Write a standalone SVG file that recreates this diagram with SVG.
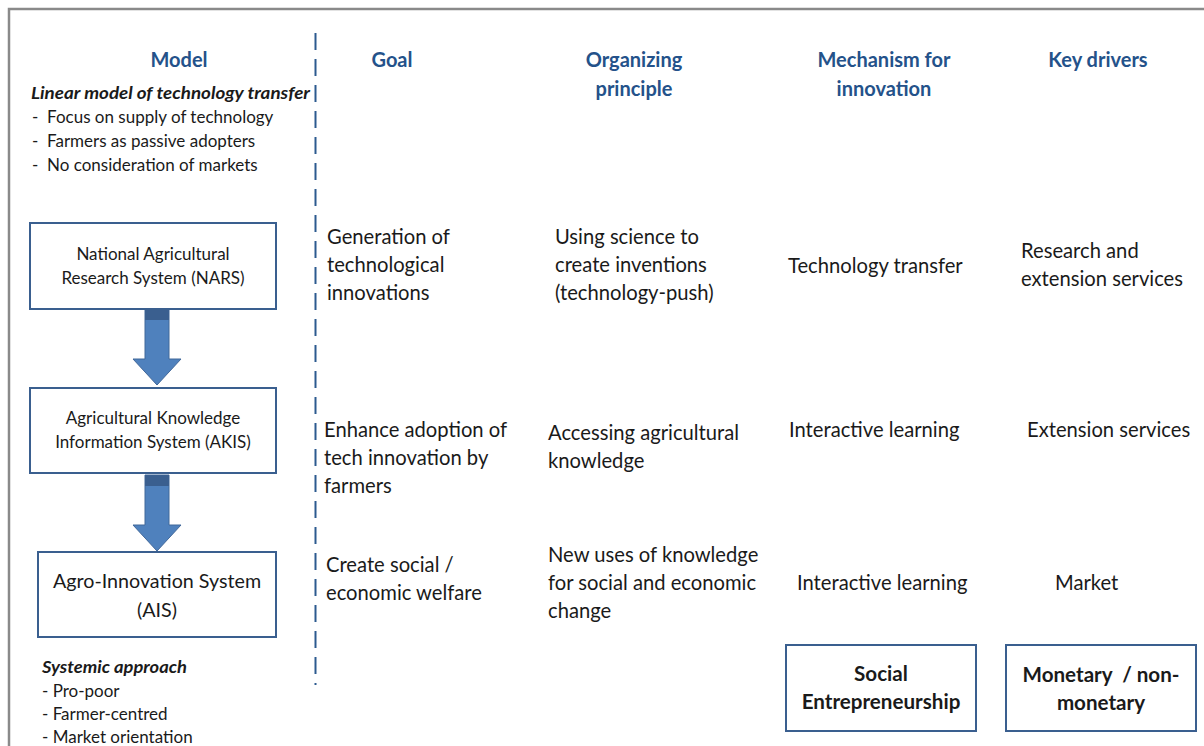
<svg xmlns="http://www.w3.org/2000/svg" width="1204" height="746" viewBox="0 0 1204 746">
<style>
text{font-family:Lato,"Open Sans",sans-serif;fill:#1a1a1a}
.h{font-weight:bold;fill:#24528a;font-size:20px;text-anchor:middle}
.b{font-size:20.2px}
.s{font-size:17px}
.bi{font-size:17px;font-weight:bold;font-style:italic}
.bx{fill:#fff;stroke:#3a5f8f;stroke-width:2}
.c{text-anchor:middle}
.bb{font-weight:bold;font-size:20.6px;text-anchor:middle}
</style>
<defs>
<g id="arrow">
<polygon points="-12,0 12,0 12,50 24,50 0,76 -24,50 -12,50" fill="#4f81bd" stroke="#41689a" stroke-width="1"/>
<rect x="-12" y="0" width="24" height="11" fill="#3a5f8f"/>
</g>
</defs>
<rect width="1204" height="746" fill="#fff"/>
<path d="M9,746 V9 H1204" fill="none" stroke="#8a8a8a" stroke-width="2.5"/>
<g id="connectors">
<line x1="315.5" y1="33" x2="315.5" y2="685" stroke="#2c5a8f" stroke-width="2" stroke-dasharray="17,9"/>
<use href="#arrow" x="157" y="309"/>
<use href="#arrow" x="157" y="475"/>
</g>
<g id="headers">
<text class="h" x="179" y="67">Model</text>
<text class="h" x="392" y="67">Goal</text>
<text class="h" x="634" y="67">Organizing</text>
<text class="h" x="634" y="96">principle</text>
<text class="h" x="884" y="67">Mechanism for</text>
<text class="h" x="884" y="96">innovation</text>
<text class="h" x="1098" y="67">Key drivers</text>
</g>
<g id="linear-model">
<text class="bi" x="31" y="99" textLength="279" lengthAdjust="spacingAndGlyphs">Linear model of technology transfer</text>
<text class="s" x="32" y="123" xml:space="preserve">-  Focus on supply of technology</text>
<text class="s" x="32" y="147" xml:space="preserve">-  Farmers as passive adopters</text>
<text class="s" x="32" y="171" xml:space="preserve">-  No consideration of markets</text>
</g>
<g id="nars">
<rect class="bx" x="30" y="223" width="246" height="86"/>
<text class="s c" x="153" y="260">National Agricultural</text>
<text class="s c" x="153" y="284">Research System (NARS)</text>
</g>
<g id="akis">
<rect class="bx" x="30" y="388" width="246" height="85"/>
<text class="s c" x="153" y="424">Agricultural Knowledge</text>
<text class="s c" x="153" y="448">Information System (AKIS)</text>
</g>
<g id="ais">
<rect class="bx" x="38" y="552" width="238" height="85"/>
<text class="c" x="157" y="588" font-size="19.7">Agro-Innovation System</text>
<text class="c" x="157" y="617" font-size="19.7">(AIS)</text>
</g>
<g id="systemic">
<text class="bi" x="42" y="673" textLength="145" lengthAdjust="spacingAndGlyphs">Systemic approach</text>
<text class="s" x="42" y="697">- Pro-poor</text>
<text class="s" x="42" y="720">- Farmer-centred</text>
<text class="s" x="42" y="743">- Market orientation</text>
</g>
<g id="row1">
<text class="b" x="327" y="244">Generation of</text>
<text class="b" x="327" y="272">technological</text>
<text class="b" x="327" y="300">innovations</text>
<text class="b" x="555" y="244">Using science to</text>
<text class="b" x="555" y="272">create inventions</text>
<text class="b" x="555" y="300">(technology-push)</text>
<text class="b" x="788" y="273">Technology transfer</text>
<text class="b" x="1021" y="258">Research and</text>
<text class="b" x="1021" y="286">extension services</text>
</g>
<g id="row2">
<text class="b" x="324" y="437">Enhance adoption of</text>
<text class="b" x="324" y="465">tech innovation by</text>
<text class="b" x="324" y="493">farmers</text>
<text class="b" x="548" y="440">Accessing agricultural</text>
<text class="b" x="548" y="468">knowledge</text>
<text class="b" x="789" y="437">Interactive learning</text>
<text class="b" x="1027" y="437">Extension services</text>
</g>
<g id="row3">
<text class="b" x="326" y="572">Create social /</text>
<text class="b" x="326" y="600">economic welfare</text>
<text class="b" x="548" y="562">New uses of knowledge</text>
<text class="b" x="548" y="590">for social and economic</text>
<text class="b" x="548" y="618">change</text>
<text class="b" x="797" y="590">Interactive learning</text>
<text class="b" x="1055" y="590">Market</text>
</g>
<g id="social-entrepreneurship">
<rect class="bx" x="786" y="645" width="190" height="86"/>
<text class="bb" x="881" y="681">Social</text>
<text class="bb" x="881" y="709">Entrepreneurship</text>
</g>
<g id="monetary">
<rect class="bx" x="1006" y="645" width="190" height="86"/>
<text class="bb" x="1101" y="682" xml:space="preserve">Monetary  / non-</text>
<text class="bb" x="1101" y="710">monetary</text>
</g>
</svg>
